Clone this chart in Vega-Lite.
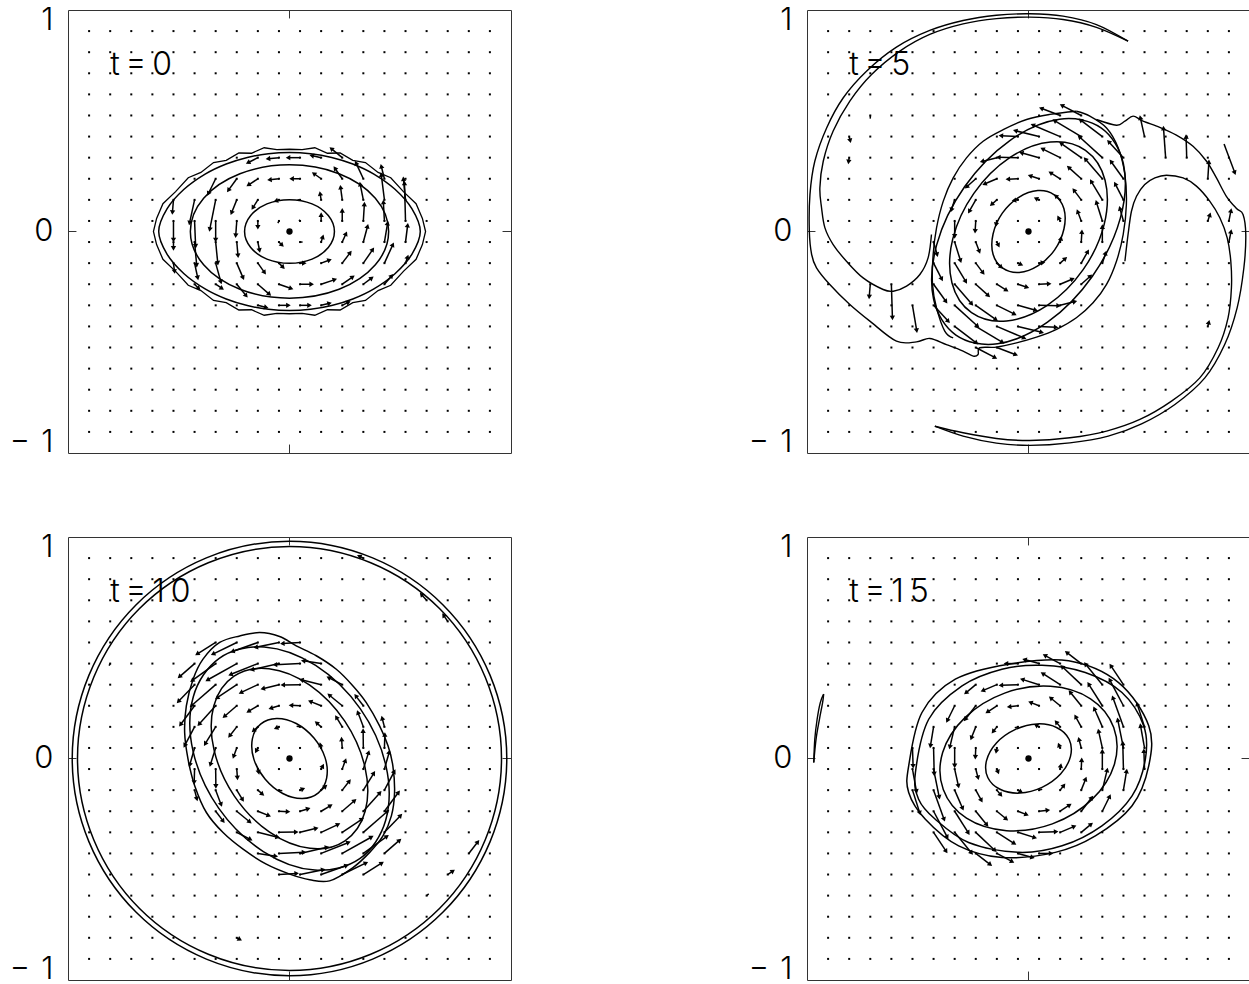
{
"$schema":"https://vega.github.io/schema/vega-lite/v6.json",
"background":"white",
"padding":{"left":8,"top":4,"right":0,"bottom":0},
"columns":2,
"spacing":{"row":84,"column":296},
"bounds":"flush",
"config":{"view":{"stroke":"#333","strokeWidth":1}},
"datasets":{
"g":[
{"x":-0.95,"y":0.95},{"x":-0.85,"y":0.95},{"x":-0.75,"y":0.95},{"x":-0.65,"y":0.95},{"x":-0.55,"y":0.95},{"x":-0.45,"y":0.95},{"x":-0.35,"y":0.95},{"x":-0.25,"y":0.95},{"x":-0.15,"y":0.95},{"x":-0.05,"y":0.95},{"x":0.05,"y":0.95},{"x":0.15,"y":0.95},{"x":0.25,"y":0.95},{"x":0.35,"y":0.95},{"x":0.45,"y":0.95},{"x":0.55,"y":0.95},{"x":0.65,"y":0.95},{"x":0.75,"y":0.95},{"x":0.85,"y":0.95},{"x":0.95,"y":0.95},
{"x":-0.95,"y":0.85},{"x":-0.85,"y":0.85},{"x":-0.75,"y":0.85},{"x":-0.65,"y":0.85},{"x":-0.55,"y":0.85},{"x":-0.45,"y":0.85},{"x":-0.35,"y":0.85},{"x":-0.25,"y":0.85},{"x":-0.15,"y":0.85},{"x":-0.05,"y":0.85},{"x":0.05,"y":0.85},{"x":0.15,"y":0.85},{"x":0.25,"y":0.85},{"x":0.35,"y":0.85},{"x":0.45,"y":0.85},{"x":0.55,"y":0.85},{"x":0.65,"y":0.85},{"x":0.75,"y":0.85},{"x":0.85,"y":0.85},{"x":0.95,"y":0.85},
{"x":-0.95,"y":0.75},{"x":-0.85,"y":0.75},{"x":-0.75,"y":0.75},{"x":-0.65,"y":0.75},{"x":-0.55,"y":0.75},{"x":-0.45,"y":0.75},{"x":-0.35,"y":0.75},{"x":-0.25,"y":0.75},{"x":-0.15,"y":0.75},{"x":-0.05,"y":0.75},{"x":0.05,"y":0.75},{"x":0.15,"y":0.75},{"x":0.25,"y":0.75},{"x":0.35,"y":0.75},{"x":0.45,"y":0.75},{"x":0.55,"y":0.75},{"x":0.65,"y":0.75},{"x":0.75,"y":0.75},{"x":0.85,"y":0.75},{"x":0.95,"y":0.75},
{"x":-0.95,"y":0.65},{"x":-0.85,"y":0.65},{"x":-0.75,"y":0.65},{"x":-0.65,"y":0.65},{"x":-0.55,"y":0.65},{"x":-0.45,"y":0.65},{"x":-0.35,"y":0.65},{"x":-0.25,"y":0.65},{"x":-0.15,"y":0.65},{"x":-0.05,"y":0.65},{"x":0.05,"y":0.65},{"x":0.15,"y":0.65},{"x":0.25,"y":0.65},{"x":0.35,"y":0.65},{"x":0.45,"y":0.65},{"x":0.55,"y":0.65},{"x":0.65,"y":0.65},{"x":0.75,"y":0.65},{"x":0.85,"y":0.65},{"x":0.95,"y":0.65},
{"x":-0.95,"y":0.55},{"x":-0.85,"y":0.55},{"x":-0.75,"y":0.55},{"x":-0.65,"y":0.55},{"x":-0.55,"y":0.55},{"x":-0.45,"y":0.55},{"x":-0.35,"y":0.55},{"x":-0.25,"y":0.55},{"x":-0.15,"y":0.55},{"x":-0.05,"y":0.55},{"x":0.05,"y":0.55},{"x":0.15,"y":0.55},{"x":0.25,"y":0.55},{"x":0.35,"y":0.55},{"x":0.45,"y":0.55},{"x":0.55,"y":0.55},{"x":0.65,"y":0.55},{"x":0.75,"y":0.55},{"x":0.85,"y":0.55},{"x":0.95,"y":0.55},
{"x":-0.95,"y":0.45},{"x":-0.85,"y":0.45},{"x":-0.75,"y":0.45},{"x":-0.65,"y":0.45},{"x":-0.55,"y":0.45},{"x":-0.45,"y":0.45},{"x":-0.35,"y":0.45},{"x":-0.25,"y":0.45},{"x":-0.15,"y":0.45},{"x":-0.05,"y":0.45},{"x":0.05,"y":0.45},{"x":0.15,"y":0.45},{"x":0.25,"y":0.45},{"x":0.35,"y":0.45},{"x":0.45,"y":0.45},{"x":0.55,"y":0.45},{"x":0.65,"y":0.45},{"x":0.75,"y":0.45},{"x":0.85,"y":0.45},{"x":0.95,"y":0.45},
{"x":-0.95,"y":0.35},{"x":-0.85,"y":0.35},{"x":-0.75,"y":0.35},{"x":-0.65,"y":0.35},{"x":-0.55,"y":0.35},{"x":-0.45,"y":0.35},{"x":-0.35,"y":0.35},{"x":-0.25,"y":0.35},{"x":-0.15,"y":0.35},{"x":-0.05,"y":0.35},{"x":0.05,"y":0.35},{"x":0.15,"y":0.35},{"x":0.25,"y":0.35},{"x":0.35,"y":0.35},{"x":0.45,"y":0.35},{"x":0.55,"y":0.35},{"x":0.65,"y":0.35},{"x":0.75,"y":0.35},{"x":0.85,"y":0.35},{"x":0.95,"y":0.35},
{"x":-0.95,"y":0.25},{"x":-0.85,"y":0.25},{"x":-0.75,"y":0.25},{"x":-0.65,"y":0.25},{"x":-0.55,"y":0.25},{"x":-0.45,"y":0.25},{"x":-0.35,"y":0.25},{"x":-0.25,"y":0.25},{"x":-0.15,"y":0.25},{"x":-0.05,"y":0.25},{"x":0.05,"y":0.25},{"x":0.15,"y":0.25},{"x":0.25,"y":0.25},{"x":0.35,"y":0.25},{"x":0.45,"y":0.25},{"x":0.55,"y":0.25},{"x":0.65,"y":0.25},{"x":0.75,"y":0.25},{"x":0.85,"y":0.25},{"x":0.95,"y":0.25},
{"x":-0.95,"y":0.15},{"x":-0.85,"y":0.15},{"x":-0.75,"y":0.15},{"x":-0.65,"y":0.15},{"x":-0.55,"y":0.15},{"x":-0.45,"y":0.15},{"x":-0.35,"y":0.15},{"x":-0.25,"y":0.15},{"x":-0.15,"y":0.15},{"x":-0.05,"y":0.15},{"x":0.05,"y":0.15},{"x":0.15,"y":0.15},{"x":0.25,"y":0.15},{"x":0.35,"y":0.15},{"x":0.45,"y":0.15},{"x":0.55,"y":0.15},{"x":0.65,"y":0.15},{"x":0.75,"y":0.15},{"x":0.85,"y":0.15},{"x":0.95,"y":0.15},
{"x":-0.95,"y":0.05},{"x":-0.85,"y":0.05},{"x":-0.75,"y":0.05},{"x":-0.65,"y":0.05},{"x":-0.55,"y":0.05},{"x":-0.45,"y":0.05},{"x":-0.35,"y":0.05},{"x":-0.25,"y":0.05},{"x":-0.15,"y":0.05},{"x":-0.05,"y":0.05},{"x":0.05,"y":0.05},{"x":0.15,"y":0.05},{"x":0.25,"y":0.05},{"x":0.35,"y":0.05},{"x":0.45,"y":0.05},{"x":0.55,"y":0.05},{"x":0.65,"y":0.05},{"x":0.75,"y":0.05},{"x":0.85,"y":0.05},{"x":0.95,"y":0.05},
{"x":-0.95,"y":-0.05},{"x":-0.85,"y":-0.05},{"x":-0.75,"y":-0.05},{"x":-0.65,"y":-0.05},{"x":-0.55,"y":-0.05},{"x":-0.45,"y":-0.05},{"x":-0.35,"y":-0.05},{"x":-0.25,"y":-0.05},{"x":-0.15,"y":-0.05},{"x":-0.05,"y":-0.05},{"x":0.05,"y":-0.05},{"x":0.15,"y":-0.05},{"x":0.25,"y":-0.05},{"x":0.35,"y":-0.05},{"x":0.45,"y":-0.05},{"x":0.55,"y":-0.05},{"x":0.65,"y":-0.05},{"x":0.75,"y":-0.05},{"x":0.85,"y":-0.05},{"x":0.95,"y":-0.05},
{"x":-0.95,"y":-0.15},{"x":-0.85,"y":-0.15},{"x":-0.75,"y":-0.15},{"x":-0.65,"y":-0.15},{"x":-0.55,"y":-0.15},{"x":-0.45,"y":-0.15},{"x":-0.35,"y":-0.15},{"x":-0.25,"y":-0.15},{"x":-0.15,"y":-0.15},{"x":-0.05,"y":-0.15},{"x":0.05,"y":-0.15},{"x":0.15,"y":-0.15},{"x":0.25,"y":-0.15},{"x":0.35,"y":-0.15},{"x":0.45,"y":-0.15},{"x":0.55,"y":-0.15},{"x":0.65,"y":-0.15},{"x":0.75,"y":-0.15},{"x":0.85,"y":-0.15},{"x":0.95,"y":-0.15},
{"x":-0.95,"y":-0.25},{"x":-0.85,"y":-0.25},{"x":-0.75,"y":-0.25},{"x":-0.65,"y":-0.25},{"x":-0.55,"y":-0.25},{"x":-0.45,"y":-0.25},{"x":-0.35,"y":-0.25},{"x":-0.25,"y":-0.25},{"x":-0.15,"y":-0.25},{"x":-0.05,"y":-0.25},{"x":0.05,"y":-0.25},{"x":0.15,"y":-0.25},{"x":0.25,"y":-0.25},{"x":0.35,"y":-0.25},{"x":0.45,"y":-0.25},{"x":0.55,"y":-0.25},{"x":0.65,"y":-0.25},{"x":0.75,"y":-0.25},{"x":0.85,"y":-0.25},{"x":0.95,"y":-0.25},
{"x":-0.95,"y":-0.35},{"x":-0.85,"y":-0.35},{"x":-0.75,"y":-0.35},{"x":-0.65,"y":-0.35},{"x":-0.55,"y":-0.35},{"x":-0.45,"y":-0.35},{"x":-0.35,"y":-0.35},{"x":-0.25,"y":-0.35},{"x":-0.15,"y":-0.35},{"x":-0.05,"y":-0.35},{"x":0.05,"y":-0.35},{"x":0.15,"y":-0.35},{"x":0.25,"y":-0.35},{"x":0.35,"y":-0.35},{"x":0.45,"y":-0.35},{"x":0.55,"y":-0.35},{"x":0.65,"y":-0.35},{"x":0.75,"y":-0.35},{"x":0.85,"y":-0.35},{"x":0.95,"y":-0.35},
{"x":-0.95,"y":-0.45},{"x":-0.85,"y":-0.45},{"x":-0.75,"y":-0.45},{"x":-0.65,"y":-0.45},{"x":-0.55,"y":-0.45},{"x":-0.45,"y":-0.45},{"x":-0.35,"y":-0.45},{"x":-0.25,"y":-0.45},{"x":-0.15,"y":-0.45},{"x":-0.05,"y":-0.45},{"x":0.05,"y":-0.45},{"x":0.15,"y":-0.45},{"x":0.25,"y":-0.45},{"x":0.35,"y":-0.45},{"x":0.45,"y":-0.45},{"x":0.55,"y":-0.45},{"x":0.65,"y":-0.45},{"x":0.75,"y":-0.45},{"x":0.85,"y":-0.45},{"x":0.95,"y":-0.45},
{"x":-0.95,"y":-0.55},{"x":-0.85,"y":-0.55},{"x":-0.75,"y":-0.55},{"x":-0.65,"y":-0.55},{"x":-0.55,"y":-0.55},{"x":-0.45,"y":-0.55},{"x":-0.35,"y":-0.55},{"x":-0.25,"y":-0.55},{"x":-0.15,"y":-0.55},{"x":-0.05,"y":-0.55},{"x":0.05,"y":-0.55},{"x":0.15,"y":-0.55},{"x":0.25,"y":-0.55},{"x":0.35,"y":-0.55},{"x":0.45,"y":-0.55},{"x":0.55,"y":-0.55},{"x":0.65,"y":-0.55},{"x":0.75,"y":-0.55},{"x":0.85,"y":-0.55},{"x":0.95,"y":-0.55},
{"x":-0.95,"y":-0.65},{"x":-0.85,"y":-0.65},{"x":-0.75,"y":-0.65},{"x":-0.65,"y":-0.65},{"x":-0.55,"y":-0.65},{"x":-0.45,"y":-0.65},{"x":-0.35,"y":-0.65},{"x":-0.25,"y":-0.65},{"x":-0.15,"y":-0.65},{"x":-0.05,"y":-0.65},{"x":0.05,"y":-0.65},{"x":0.15,"y":-0.65},{"x":0.25,"y":-0.65},{"x":0.35,"y":-0.65},{"x":0.45,"y":-0.65},{"x":0.55,"y":-0.65},{"x":0.65,"y":-0.65},{"x":0.75,"y":-0.65},{"x":0.85,"y":-0.65},{"x":0.95,"y":-0.65},
{"x":-0.95,"y":-0.75},{"x":-0.85,"y":-0.75},{"x":-0.75,"y":-0.75},{"x":-0.65,"y":-0.75},{"x":-0.55,"y":-0.75},{"x":-0.45,"y":-0.75},{"x":-0.35,"y":-0.75},{"x":-0.25,"y":-0.75},{"x":-0.15,"y":-0.75},{"x":-0.05,"y":-0.75},{"x":0.05,"y":-0.75},{"x":0.15,"y":-0.75},{"x":0.25,"y":-0.75},{"x":0.35,"y":-0.75},{"x":0.45,"y":-0.75},{"x":0.55,"y":-0.75},{"x":0.65,"y":-0.75},{"x":0.75,"y":-0.75},{"x":0.85,"y":-0.75},{"x":0.95,"y":-0.75},
{"x":-0.95,"y":-0.85},{"x":-0.85,"y":-0.85},{"x":-0.75,"y":-0.85},{"x":-0.65,"y":-0.85},{"x":-0.55,"y":-0.85},{"x":-0.45,"y":-0.85},{"x":-0.35,"y":-0.85},{"x":-0.25,"y":-0.85},{"x":-0.15,"y":-0.85},{"x":-0.05,"y":-0.85},{"x":0.05,"y":-0.85},{"x":0.15,"y":-0.85},{"x":0.25,"y":-0.85},{"x":0.35,"y":-0.85},{"x":0.45,"y":-0.85},{"x":0.55,"y":-0.85},{"x":0.65,"y":-0.85},{"x":0.75,"y":-0.85},{"x":0.85,"y":-0.85},{"x":0.95,"y":-0.85},
{"x":-0.95,"y":-0.95},{"x":-0.85,"y":-0.95},{"x":-0.75,"y":-0.95},{"x":-0.65,"y":-0.95},{"x":-0.55,"y":-0.95},{"x":-0.45,"y":-0.95},{"x":-0.35,"y":-0.95},{"x":-0.25,"y":-0.95},{"x":-0.15,"y":-0.95},{"x":-0.05,"y":-0.95},{"x":0.05,"y":-0.95},{"x":0.15,"y":-0.95},{"x":0.25,"y":-0.95},{"x":0.35,"y":-0.95},{"x":0.45,"y":-0.95},{"x":0.55,"y":-0.95},{"x":0.65,"y":-0.95},{"x":0.75,"y":-0.95},{"x":0.85,"y":-0.95},{"x":0.95,"y":-0.95}
],
"tk":[{"x":-1.05,"y":0,"x2":-1.01,"y2":0},{"x":1.01,"y":0,"x2":1.05,"y2":0},{"x":0,"y":1.01,"x2":0,"y2":1.05},{"x":0,"y":-1.05,"x2":0,"y2":-1.01}],
"s0":[
{"id":1,"x":0.213,"y":0},{"id":1,"x":0.184,"y":0.076},{"id":1,"x":0.107,"y":0.131},{"id":1,"x":0,"y":0.151},{"id":1,"x":-0.107,"y":0.131},{"id":1,"x":-0.184,"y":0.076},{"id":1,"x":-0.213,"y":0},{"id":1,"x":-0.184,"y":-0.076},{"id":1,"x":-0.107,"y":-0.131},{"id":1,"x":0,"y":-0.151},{"id":1,"x":0.107,"y":-0.131},{"id":1,"x":0.184,"y":-0.076},
{"id":2,"x":0.47,"y":0},{"id":2,"x":0.407,"y":0.158},{"id":2,"x":0.235,"y":0.274},{"id":2,"x":0,"y":0.316},{"id":2,"x":-0.235,"y":0.274},{"id":2,"x":-0.407,"y":0.158},{"id":2,"x":-0.47,"y":0},{"id":2,"x":-0.407,"y":-0.158},{"id":2,"x":-0.235,"y":-0.274},{"id":2,"x":0,"y":-0.316},{"id":2,"x":0.235,"y":-0.274},{"id":2,"x":0.407,"y":-0.158},
{"id":3,"x":0.62,"y":0},{"id":3,"x":0.58,"y":0.108},{"id":3,"x":0.5,"y":0.2},{"id":3,"x":0.4,"y":0.272},{"id":3,"x":0.3,"y":0.32},{"id":3,"x":0.2,"y":0.351},{"id":3,"x":0.1,"y":0.369},{"id":3,"x":0,"y":0.375},{"id":3,"x":-0.1,"y":0.369},{"id":3,"x":-0.2,"y":0.351},{"id":3,"x":-0.3,"y":0.32},{"id":3,"x":-0.4,"y":0.272},{"id":3,"x":-0.5,"y":0.2},{"id":3,"x":-0.58,"y":0.108},{"id":3,"x":-0.62,"y":0},{"id":3,"x":-0.58,"y":-0.108},{"id":3,"x":-0.5,"y":-0.2},{"id":3,"x":-0.4,"y":-0.272},{"id":3,"x":-0.3,"y":-0.32},{"id":3,"x":-0.2,"y":-0.351},{"id":3,"x":-0.1,"y":-0.369},{"id":3,"x":0,"y":-0.375},{"id":3,"x":0.1,"y":-0.369},{"id":3,"x":0.2,"y":-0.351},{"id":3,"x":0.3,"y":-0.32},{"id":3,"x":0.4,"y":-0.272},{"id":3,"x":0.5,"y":-0.2},{"id":3,"x":0.58,"y":-0.108}
],
"j0":[
{"id":1,"x":0.645,"y":0},{"id":1,"x":0.63,"y":0.062},{"id":1,"x":0.6,"y":0.132},{"id":1,"x":0.54,"y":0.189},{"id":1,"x":0.48,"y":0.255},{"id":1,"x":0.42,"y":0.28},{"id":1,"x":0.36,"y":0.327},{"id":1,"x":0.3,"y":0.337},{"id":1,"x":0.24,"y":0.372},{"id":1,"x":0.18,"y":0.371},{"id":1,"x":0.12,"y":0.397},{"id":1,"x":0.06,"y":0.388},{"id":1,"x":0,"y":0.39},{"id":1,"x":-0.06,"y":0.388},{"id":1,"x":-0.12,"y":0.397},{"id":1,"x":-0.18,"y":0.371},{"id":1,"x":-0.24,"y":0.372},{"id":1,"x":-0.3,"y":0.337},{"id":1,"x":-0.36,"y":0.327},{"id":1,"x":-0.42,"y":0.28},{"id":1,"x":-0.48,"y":0.255},{"id":1,"x":-0.54,"y":0.189},{"id":1,"x":-0.6,"y":0.132},{"id":1,"x":-0.63,"y":0.062},{"id":1,"x":-0.645,"y":0},
{"id":1,"x":-0.63,"y":-0.062},{"id":1,"x":-0.6,"y":-0.132},{"id":1,"x":-0.54,"y":-0.189},{"id":1,"x":-0.48,"y":-0.255},{"id":1,"x":-0.42,"y":-0.28},{"id":1,"x":-0.36,"y":-0.327},{"id":1,"x":-0.3,"y":-0.337},{"id":1,"x":-0.24,"y":-0.372},{"id":1,"x":-0.18,"y":-0.371},{"id":1,"x":-0.12,"y":-0.397},{"id":1,"x":-0.06,"y":-0.388},{"id":1,"x":0,"y":-0.39},{"id":1,"x":0.06,"y":-0.388},{"id":1,"x":0.12,"y":-0.397},{"id":1,"x":0.18,"y":-0.371},{"id":1,"x":0.24,"y":-0.372},{"id":1,"x":0.3,"y":-0.337},{"id":1,"x":0.36,"y":-0.327},{"id":1,"x":0.42,"y":-0.28},{"id":1,"x":0.48,"y":-0.255},{"id":1,"x":0.54,"y":-0.189},{"id":1,"x":0.6,"y":-0.132},{"id":1,"x":0.63,"y":-0.062}
],
"s1":[
{"id":1,"x":0.122,"y":0.174},{"id":1,"x":0.044,"y":0.194},{"id":1,"x":-0.046,"y":0.162},{"id":1,"x":-0.124,"y":0.087},{"id":1,"x":-0.168,"y":-0.012},{"id":1,"x":-0.168,"y":-0.108},{"id":1,"x":-0.122,"y":-0.174},{"id":1,"x":-0.044,"y":-0.194},{"id":1,"x":0.046,"y":-0.162},{"id":1,"x":0.124,"y":-0.087},{"id":1,"x":0.168,"y":0.012},{"id":1,"x":0.168,"y":0.108},
{"id":2,"x":0.27,"y":0.385},{"id":2,"x":0.104,"y":0.424},{"id":2,"x":-0.089,"y":0.35},{"id":2,"x":-0.259,"y":0.181},{"id":2,"x":-0.359,"y":-0.035},{"id":2,"x":-0.363,"y":-0.243},{"id":2,"x":-0.27,"y":-0.385},{"id":2,"x":-0.104,"y":-0.424},{"id":2,"x":0.089,"y":-0.35},{"id":2,"x":0.259,"y":-0.181},{"id":2,"x":0.359,"y":0.035},{"id":2,"x":0.363,"y":0.243},
{"id":3,"x":0.344,"y":0.491},{"id":3,"x":0.147,"y":0.532},{"id":3,"x":-0.09,"y":0.43},{"id":3,"x":-0.303,"y":0.212},{"id":3,"x":-0.435,"y":-0.062},{"id":3,"x":-0.45,"y":-0.32},{"id":3,"x":-0.344,"y":-0.491},{"id":3,"x":-0.147,"y":-0.532},{"id":3,"x":0.09,"y":-0.43},{"id":3,"x":0.303,"y":-0.212},{"id":3,"x":0.435,"y":0.062},{"id":3,"x":0.45,"y":0.32}
],
"o1":[
{"id":1,"x":0.472,"y":0.902},{"id":1,"x":0.322,"y":0.981},{"id":1,"x":0.164,"y":1.021},{"id":1,"x":0.006,"y":1.032},{"id":1,"x":-0.152,"y":1.025},{"id":1,"x":-0.31,"y":1.0},{"id":1,"x":-0.468,"y":0.953},{"id":1,"x":-0.626,"y":0.874},{"id":1,"x":-0.768,"y":0.76},{"id":1,"x":-0.878,"y":0.634},{"id":1,"x":-0.957,"y":0.491},{"id":1,"x":-1.013,"y":0.333},{"id":1,"x":-1.036,"y":0.175},{"id":1,"x":-1.039,"y":0.002},{"id":1,"x":-1.028,"y":-0.109},{"id":1,"x":-1.005,"y":-0.172},{"id":1,"x":-0.942,"y":-0.251},{"id":1,"x":-0.847,"y":-0.346},{"id":1,"x":-0.752,"y":-0.425},{"id":1,"x":-0.626,"y":-0.52},{"id":1,"x":-0.531,"y":-0.523},{"id":1,"x":-0.468,"y":-0.507},{"id":1,"x":-0.389,"y":-0.536},{"id":1,"x":-0.31,"y":-0.567},{"id":1,"x":-0.262,"y":-0.591},{"id":1,"x":-0.239,"y":-0.583},{"id":1,"x":-0.231,"y":-0.551},{"id":1,"x":-0.152,"y":-0.548},{"id":1,"x":-0.057,"y":-0.528},{"id":1,"x":0.038,"y":-0.501},{"id":1,"x":0.133,"y":-0.464},{"id":1,"x":0.227,"y":-0.409},{"id":1,"x":0.306,"y":-0.338},{"id":1,"x":0.37,"y":-0.251},{"id":1,"x":0.417,"y":-0.141},{"id":1,"x":0.449,"y":-0.014},{"id":1,"x":0.464,"y":0.128},{"id":1,"x":0.457,"y":0.27},{"id":1,"x":0.425,"y":0.397},{"id":1,"x":0.37,"y":0.491},{"id":1,"x":0.291,"y":0.547},{"id":1,"x":0.227,"y":0.57},
{"id":2,"x":0.227,"y":0.57},{"id":2,"x":0.101,"y":0.555},{"id":2,"x":-0.009,"y":0.531},{"id":2,"x":-0.12,"y":0.483},{"id":2,"x":-0.215,"y":0.428},{"id":2,"x":-0.294,"y":0.349},{"id":2,"x":-0.357,"y":0.254},{"id":2,"x":-0.404,"y":0.144},{"id":2,"x":-0.436,"y":0.017},{"id":2,"x":-0.452,"y":-0.109},{"id":2,"x":-0.455,"y":-0.251},{"id":2,"x":-0.436,"y":-0.362},{"id":2,"x":-0.397,"y":-0.472},{"id":2,"x":-0.357,"y":-0.504},
{"id":3,"x":0.472,"y":0.902},{"id":3,"x":0.322,"y":0.968},{"id":3,"x":0.164,"y":1.005},{"id":3,"x":0.006,"y":1.016},{"id":3,"x":-0.152,"y":1.009},{"id":3,"x":-0.31,"y":0.984},{"id":3,"x":-0.468,"y":0.934},{"id":3,"x":-0.61,"y":0.855},{"id":3,"x":-0.744,"y":0.744},{"id":3,"x":-0.847,"y":0.618},{"id":3,"x":-0.926,"y":0.476},{"id":3,"x":-0.973,"y":0.333},{"id":3,"x":-0.989,"y":0.207},{"id":3,"x":-0.981,"y":0.112},{"id":3,"x":-0.965,"y":0.017},{"id":3,"x":-0.926,"y":-0.062},{"id":3,"x":-0.863,"y":-0.141},{"id":3,"x":-0.784,"y":-0.22},{"id":3,"x":-0.689,"y":-0.275},{"id":3,"x":-0.641,"y":-0.283},{"id":3,"x":-0.578,"y":-0.259},{"id":3,"x":-0.515,"y":-0.204},{"id":3,"x":-0.476,"y":-0.125},{"id":3,"x":-0.46,"y":-0.014},
{"id":4,"x":0.322,"y":0.531},{"id":4,"x":0.417,"y":0.504},{"id":4,"x":0.457,"y":0.523},{"id":4,"x":0.496,"y":0.547},{"id":4,"x":0.543,"y":0.523},{"id":4,"x":0.622,"y":0.494},{"id":4,"x":0.701,"y":0.457},{"id":4,"x":0.78,"y":0.404},{"id":4,"x":0.844,"y":0.333},{"id":4,"x":0.891,"y":0.254},{"id":4,"x":0.938,"y":0.167},{"id":4,"x":0.986,"y":0.109},{"id":4,"x":1.017,"y":0.081},{"id":4,"x":1.03,"y":-0.014},{"id":4,"x":1.021,"y":-0.172},{"id":4,"x":0.989,"y":-0.362},{"id":4,"x":0.93,"y":-0.536},{"id":4,"x":0.836,"y":-0.694},{"id":4,"x":0.694,"y":-0.82},{"id":4,"x":0.536,"y":-0.912},{"id":4,"x":0.378,"y":-0.97},{"id":4,"x":0.196,"y":-1.002},{"id":4,"x":0.006,"y":-1.014},{"id":4,"x":-0.152,"y":-1.003},{"id":4,"x":-0.31,"y":-0.97},{"id":4,"x":-0.444,"y":-0.923},
{"id":5,"x":0.457,"y":-0.141},{"id":5,"x":0.472,"y":-0.014},{"id":5,"x":0.488,"y":0.096},{"id":5,"x":0.512,"y":0.167},{"id":5,"x":0.551,"y":0.223},{"id":5,"x":0.599,"y":0.254},{"id":5,"x":0.654,"y":0.267},{"id":5,"x":0.733,"y":0.254},{"id":5,"x":0.796,"y":0.215},{"id":5,"x":0.859,"y":0.144},{"id":5,"x":0.907,"y":0.065},{"id":5,"x":0.942,"y":-0.03},{"id":5,"x":0.959,"y":-0.141},{"id":5,"x":0.962,"y":-0.267},{"id":5,"x":0.946,"y":-0.409},{"id":5,"x":0.899,"y":-0.551},{"id":5,"x":0.812,"y":-0.694},{"id":5,"x":0.678,"y":-0.804},{"id":5,"x":0.528,"y":-0.891},{"id":5,"x":0.37,"y":-0.946},{"id":5,"x":0.196,"y":-0.978},{"id":5,"x":0.006,"y":-0.991},{"id":5,"x":-0.152,"y":-0.981},{"id":5,"x":-0.31,"y":-0.954},{"id":5,"x":-0.444,"y":-0.923}
],
"s2":[
{"id":1,"x":1.03,"y":0},{"id":1,"x":0.951,"y":0.394},{"id":1,"x":0.728,"y":0.728},{"id":1,"x":0.394,"y":0.951},{"id":1,"x":0,"y":1.03},{"id":1,"x":-0.394,"y":0.951},{"id":1,"x":-0.728,"y":0.728},{"id":1,"x":-0.951,"y":0.394},{"id":1,"x":-1.03,"y":0},{"id":1,"x":-0.951,"y":-0.394},{"id":1,"x":-0.728,"y":-0.728},{"id":1,"x":-0.394,"y":-0.951},{"id":1,"x":0,"y":-1.03},{"id":1,"x":0.394,"y":-0.951},{"id":1,"x":0.728,"y":-0.728},{"id":1,"x":0.951,"y":-0.394},
{"id":2,"x":1.005,"y":0},{"id":2,"x":0.928,"y":0.385},{"id":2,"x":0.711,"y":0.711},{"id":2,"x":0.385,"y":0.928},{"id":2,"x":0,"y":1.005},{"id":2,"x":-0.385,"y":0.928},{"id":2,"x":-0.711,"y":0.711},{"id":2,"x":-0.928,"y":0.385},{"id":2,"x":-1.005,"y":0},{"id":2,"x":-0.928,"y":-0.385},{"id":2,"x":-0.711,"y":-0.711},{"id":2,"x":-0.385,"y":-0.928},{"id":2,"x":0,"y":-1.005},{"id":2,"x":0.385,"y":-0.928},{"id":2,"x":0.711,"y":-0.711},{"id":2,"x":0.928,"y":-0.385},
{"id":3,"x":-0.137,"y":0.163},{"id":3,"x":-0.176,"y":0.093},{"id":3,"x":-0.169,"y":-0.003},{"id":3,"x":-0.116,"y":-0.097},{"id":3,"x":-0.032,"y":-0.166},{"id":3,"x":0.061,"y":-0.19},{"id":3,"x":0.137,"y":-0.163},{"id":3,"x":0.176,"y":-0.093},{"id":3,"x":0.169,"y":0.003},{"id":3,"x":0.116,"y":0.097},{"id":3,"x":0.032,"y":0.166},{"id":3,"x":-0.061,"y":0.19},
{"id":4,"x":-0.263,"y":0.39},{"id":4,"x":-0.359,"y":0.249},{"id":4,"x":-0.358,"y":0.042},{"id":4,"x":-0.262,"y":-0.177},{"id":4,"x":-0.096,"y":-0.348},{"id":4,"x":0.097,"y":-0.426},{"id":4,"x":0.263,"y":-0.39},{"id":4,"x":0.359,"y":-0.249},{"id":4,"x":0.358,"y":-0.042},{"id":4,"x":0.262,"y":0.177},{"id":4,"x":0.096,"y":0.348},{"id":4,"x":-0.097,"y":0.426},
{"id":5,"x":-0.333,"y":0.475},{"id":5,"x":-0.456,"y":0.293},{"id":5,"x":-0.457,"y":0.034},{"id":5,"x":-0.336,"y":-0.235},{"id":5,"x":-0.124,"y":-0.441},{"id":5,"x":0.12,"y":-0.529},{"id":5,"x":0.333,"y":-0.475},{"id":5,"x":0.456,"y":-0.293},{"id":5,"x":0.457,"y":-0.034},{"id":5,"x":0.336,"y":0.235},{"id":5,"x":0.124,"y":0.441},{"id":5,"x":-0.12,"y":0.529},
{"id":6,"x":-0.236,"y":0.581},{"id":6,"x":-0.141,"y":0.597},{"id":6,"x":-0.047,"y":0.578},{"id":6,"x":0.032,"y":0.534},{"id":6,"x":0.127,"y":0.487},{"id":6,"x":0.222,"y":0.423},{"id":6,"x":0.301,"y":0.344},{"id":6,"x":0.364,"y":0.265},{"id":6,"x":0.427,"y":0.155},{"id":6,"x":0.467,"y":0.06},{"id":6,"x":0.49,"y":-0.035},{"id":6,"x":0.498,"y":-0.161},{"id":6,"x":0.483,"y":-0.272},{"id":6,"x":0.443,"y":-0.367},{"id":6,"x":0.38,"y":-0.445},{"id":6,"x":0.301,"y":-0.517},{"id":6,"x":0.19,"y":-0.58},{"id":6,"x":0.096,"y":-0.575},{"id":6,"x":0.001,"y":-0.548},{"id":6,"x":-0.11,"y":-0.501},{"id":6,"x":-0.22,"y":-0.43},{"id":6,"x":-0.315,"y":-0.351},{"id":6,"x":-0.394,"y":-0.256},{"id":6,"x":-0.449,"y":-0.13},{"id":6,"x":-0.481,"y":-0.003},{"id":6,"x":-0.497,"y":0.123},{"id":6,"x":-0.489,"y":0.25},{"id":6,"x":-0.457,"y":0.376},{"id":6,"x":-0.41,"y":0.471},{"id":6,"x":-0.331,"y":0.55}
],
"s3":[
{"id":1,"x":0.193,"y":0.09},{"id":1,"x":0.135,"y":0.146},{"id":1,"x":0.041,"y":0.164},{"id":1,"x":-0.064,"y":0.137},{"id":1,"x":-0.152,"y":0.074},{"id":1,"x":-0.199,"y":-0.01},{"id":1,"x":-0.193,"y":-0.09},{"id":1,"x":-0.135,"y":-0.146},{"id":1,"x":-0.041,"y":-0.164},{"id":1,"x":0.064,"y":-0.137},{"id":1,"x":0.152,"y":-0.074},{"id":1,"x":0.199,"y":0.01},
{"id":2,"x":0.404,"y":0.147},{"id":2,"x":0.294,"y":0.283},{"id":2,"x":0.104,"y":0.342},{"id":2,"x":-0.113,"y":0.31},{"id":2,"x":-0.3,"y":0.195},{"id":2,"x":-0.407,"y":0.028},{"id":2,"x":-0.404,"y":-0.147},{"id":2,"x":-0.294,"y":-0.283},{"id":2,"x":-0.104,"y":-0.342},{"id":2,"x":0.113,"y":-0.31},{"id":2,"x":0.3,"y":-0.195},{"id":2,"x":0.407,"y":-0.028},
{"id":3,"x":-0.536,"y":-0.066},{"id":3,"x":-0.521,"y":-0.193},{"id":3,"x":-0.442,"y":-0.288},{"id":3,"x":-0.284,"y":-0.398},{"id":3,"x":-0.047,"y":-0.445},{"id":3,"x":0.159,"y":-0.414},{"id":3,"x":0.348,"y":-0.319},{"id":3,"x":0.491,"y":-0.177},{"id":3,"x":0.554,"y":-0.003},{"id":3,"x":0.546,"y":0.155},{"id":3,"x":0.443,"y":0.313},{"id":3,"x":0.269,"y":0.408},{"id":3,"x":0.064,"y":0.442},{"id":3,"x":-0.126,"y":0.423},{"id":3,"x":-0.315,"y":0.344},{"id":3,"x":-0.473,"y":0.186},
{"id":4,"x":-0.568,"y":-0.035},{"id":4,"x":-0.568,"y":-0.161},{"id":4,"x":-0.489,"y":-0.288},{"id":4,"x":-0.331,"y":-0.414},{"id":4,"x":-0.126,"y":-0.469},{"id":4,"x":0.127,"y":-0.445},{"id":4,"x":0.317,"y":-0.367},{"id":4,"x":0.491,"y":-0.224},{"id":4,"x":0.57,"y":-0.035},{"id":4,"x":0.57,"y":0.155},{"id":4,"x":0.427,"y":0.36},{"id":4,"x":0.19,"y":0.463},{"id":4,"x":-0.094,"y":0.447},{"id":4,"x":-0.347,"y":0.376},{"id":4,"x":-0.505,"y":0.218}
],
"o3":[
{"id":1,"x":-1.018,"y":-0.019},{"id":1,"x":-1.013,"y":0.092},{"id":1,"x":-1.002,"y":0.186},{"id":1,"x":-0.987,"y":0.265},{"id":1,"x":-0.971,"y":0.305},
{"id":2,"x":-1.018,"y":-0.019},{"id":2,"x":-1.007,"y":0.092},{"id":2,"x":-0.991,"y":0.186},{"id":2,"x":-0.976,"y":0.265},{"id":2,"x":-0.971,"y":0.305}
],
"a0":[
{"x":-0.15,"y":0.35,"x2":-0.197,"y2":0.326},{"x":-0.05,"y":0.35,"x2":-0.102,"y2":0.345},{"x":0.05,"y":0.35,"x2":-0.007,"y2":0.35},{"x":0.15,"y":0.35,"x2":0.105,"y2":0.36},{"x":0.25,"y":0.35,"x2":0.198,"y2":0.393},
{"x":-0.35,"y":0.25,"x2":-0.385,"y2":0.179},{"x":-0.25,"y":0.25,"x2":-0.29,"y2":0.195},{"x":-0.15,"y":0.25,"x2":-0.195,"y2":0.22},{"x":-0.05,"y":0.25,"x2":-0.095,"y2":0.245},{"x":0.05,"y":0.25,"x2":0.01,"y2":0.25},{"x":0.15,"y":0.25,"x2":0.115,"y2":0.275},{"x":0.25,"y":0.25,"x2":0.215,"y2":0.3},{"x":0.35,"y":0.25,"x2":0.315,"y2":0.325},{"x":0.45,"y":0.25,"x2":0.435,"y2":0.31},
{"x":-0.55,"y":0.15,"x2":-0.555,"y2":0.09},{"x":-0.45,"y":0.15,"x2":-0.474,"y2":0.04},{"x":-0.35,"y":0.15,"x2":-0.378,"y2":0.01},{"x":-0.25,"y":0.15,"x2":-0.275,"y2":0.088},{"x":-0.15,"y":0.15,"x2":-0.174,"y2":0.112},{"x":-0.05,"y":0.15,"x2":-0.065,"y2":0.145},{"x":0.05,"y":0.15,"x2":0.038,"y2":0.15},{"x":0.15,"y":0.15,"x2":0.145,"y2":0.18},{"x":0.25,"y":0.15,"x2":0.242,"y2":0.21},{"x":0.35,"y":0.15,"x2":0.335,"y2":0.225},{"x":0.45,"y":0.15,"x2":0.435,"y2":0.27},{"x":0.55,"y":0.15,"x2":0.54,"y2":0.25},
{"x":-0.55,"y":0.05,"x2":-0.55,"y2":-0.04},{"x":-0.45,"y":0.05,"x2":-0.445,"y2":-0.07},{"x":-0.35,"y":0.05,"x2":-0.35,"y2":-0.04},{"x":-0.25,"y":0.05,"x2":-0.255,"y2":-0.02},{"x":-0.15,"y":0.05,"x2":-0.15,"y2":0.02},{"x":-0.05,"y":0.05,"x2":-0.055,"y2":0.04},{"x":0.05,"y":0.05,"x2":0.045,"y2":0.055},{"x":0.15,"y":0.05,"x2":0.15,"y2":0.08},{"x":0.25,"y":0.05,"x2":0.25,"y2":0.1},{"x":0.35,"y":0.05,"x2":0.355,"y2":0.13},{"x":0.45,"y":0.05,"x2":0.445,"y2":0.14},{"x":0.55,"y":0.05,"x2":0.545,"y2":0.23},
{"x":-0.55,"y":-0.05,"x2":-0.55,"y2":-0.08},{"x":-0.45,"y":-0.05,"x2":-0.44,"y2":-0.16},{"x":-0.35,"y":-0.05,"x2":-0.34,"y2":-0.15},{"x":-0.25,"y":-0.05,"x2":-0.244,"y2":-0.115},{"x":-0.15,"y":-0.05,"x2":-0.142,"y2":-0.09},{"x":-0.05,"y":-0.05,"x2":-0.035,"y2":-0.065},{"x":0.05,"y":-0.05,"x2":0.062,"y2":-0.05},{"x":0.15,"y":-0.05,"x2":0.158,"y2":-0.025},{"x":0.25,"y":-0.05,"x2":0.268,"y2":-0.01},{"x":0.35,"y":-0.05,"x2":0.37,"y2":0.025},{"x":0.45,"y":-0.05,"x2":0.465,"y2":0.04},{"x":0.55,"y":-0.05,"x2":0.56,"y2":0.03},
{"x":-0.55,"y":-0.15,"x2":-0.545,"y2":-0.19},{"x":-0.45,"y":-0.15,"x2":-0.435,"y2":-0.22},{"x":-0.35,"y":-0.15,"x2":-0.325,"y2":-0.24},{"x":-0.25,"y":-0.15,"x2":-0.22,"y2":-0.22},{"x":-0.15,"y":-0.15,"x2":-0.118,"y2":-0.195},{"x":-0.05,"y":-0.15,"x2":-0.03,"y2":-0.17},{"x":0.05,"y":-0.15,"x2":0.07,"y2":-0.15},{"x":0.15,"y":-0.15,"x2":0.19,"y2":-0.135},{"x":0.25,"y":-0.15,"x2":0.288,"y2":-0.1},{"x":0.35,"y":-0.15,"x2":0.395,"y2":-0.085},{"x":0.45,"y":-0.15,"x2":0.49,"y2":-0.062},{"x":0.55,"y":-0.15,"x2":0.56,"y2":-0.12},
{"x":-0.45,"y":-0.25,"x2":-0.43,"y2":-0.27},{"x":-0.35,"y":-0.25,"x2":-0.32,"y2":-0.27},{"x":-0.25,"y":-0.25,"x2":-0.205,"y2":-0.305},{"x":-0.15,"y":-0.25,"x2":-0.095,"y2":-0.298},{"x":-0.05,"y":-0.25,"x2":0.008,"y2":-0.27},{"x":0.05,"y":-0.25,"x2":0.105,"y2":-0.25},{"x":0.15,"y":-0.25,"x2":0.215,"y2":-0.228},{"x":0.25,"y":-0.25,"x2":0.3,"y2":-0.215},{"x":0.35,"y":-0.25,"x2":0.39,"y2":-0.22},{"x":0.45,"y":-0.25,"x2":0.485,"y2":-0.21},
{"x":-0.15,"y":-0.35,"x2":-0.11,"y2":-0.36},{"x":-0.05,"y":-0.35,"x2":-0.005,"y2":-0.35},{"x":0.05,"y":-0.35,"x2":0.095,"y2":-0.35},{"x":0.15,"y":-0.35,"x2":0.19,"y2":-0.34},{"x":0.25,"y":-0.35,"x2":0.28,"y2":-0.335}
],
"a1":[
{"x":-0.35,"y":0.05,"x2":-0.35,"y2":-0.023},{"x":-0.25,"y":0.05,"x2":-0.253,"y2":0.001},{"x":-0.15,"y":0.05,"x2":-0.154,"y2":0.032},{"x":-0.05,"y":0.05,"x2":-0.053,"y2":0.047},{"x":0.05,"y":0.05,"x2":0.048,"y2":0.052},{"x":0.15,"y":0.05,"x2":0.142,"y2":0.066},{"x":0.25,"y":0.05,"x2":0.233,"y2":0.095},{"x":0.35,"y":0.05,"x2":0.322,"y2":0.139},{"x":0.45,"y":0.05,"x2":0.433,"y2":0.11},
{"x":-0.35,"y":0.15,"x2":-0.366,"y2":0.102},{"x":-0.25,"y":0.15,"x2":-0.281,"y2":0.095},{"x":-0.15,"y":0.15,"x2":-0.175,"y2":0.128},{"x":-0.05,"y":0.15,"x2":-0.069,"y2":0.147},{"x":0.05,"y":0.15,"x2":0.035,"y2":0.157},{"x":0.15,"y":0.15,"x2":0.129,"y2":0.169},{"x":0.25,"y":0.15,"x2":0.215,"y2":0.196},{"x":0.35,"y":0.15,"x2":0.297,"y2":0.238},{"x":0.45,"y":0.15,"x2":0.411,"y2":0.226},
{"x":-0.25,"y":0.25,"x2":-0.294,"y2":0.211},{"x":-0.15,"y":0.25,"x2":-0.209,"y2":0.225},{"x":-0.05,"y":0.25,"x2":-0.098,"y2":0.248},{"x":0.05,"y":0.25,"x2":0.007,"y2":0.264},{"x":0.15,"y":0.25,"x2":0.104,"y2":0.279},{"x":0.25,"y":0.25,"x2":0.19,"y2":0.304},{"x":0.35,"y":0.25,"x2":0.269,"y2":0.344},{"x":0.45,"y":0.25,"x2":0.391,"y2":0.332},
{"x":-0.15,"y":0.35,"x2":-0.22,"y2":0.332},{"x":-0.05,"y":0.35,"x2":-0.143,"y2":0.352},{"x":0.05,"y":0.35,"x2":-0.034,"y2":0.373},{"x":0.15,"y":0.35,"x2":0.066,"y2":0.392},{"x":0.25,"y":0.35,"x2":0.154,"y2":0.418},{"x":0.35,"y":0.35,"x2":0.241,"y2":0.449},{"x":0.45,"y":0.35,"x2":0.38,"y2":0.426},
{"x":-0.05,"y":0.45,"x2":-0.131,"y2":0.454},{"x":0.05,"y":0.45,"x2":-0.063,"y2":0.478},{"x":0.15,"y":0.45,"x2":0.02,"y2":0.505},{"x":0.25,"y":0.45,"x2":0.123,"y2":0.526},{"x":0.35,"y":0.45,"x2":0.246,"y2":0.529},
{"x":0.15,"y":0.55,"x2":0.06,"y2":0.584},{"x":0.25,"y":0.55,"x2":0.158,"y2":0.598},
{"x":0.35,"y":-0.05,"x2":0.35,"y2":0.023},{"x":0.25,"y":-0.05,"x2":0.253,"y2":-0.001},{"x":0.15,"y":-0.05,"x2":0.154,"y2":-0.032},{"x":0.05,"y":-0.05,"x2":0.053,"y2":-0.047},{"x":-0.05,"y":-0.05,"x2":-0.048,"y2":-0.052},{"x":-0.15,"y":-0.05,"x2":-0.142,"y2":-0.066},{"x":-0.25,"y":-0.05,"x2":-0.233,"y2":-0.095},{"x":-0.35,"y":-0.05,"x2":-0.322,"y2":-0.139},{"x":-0.45,"y":-0.05,"x2":-0.433,"y2":-0.11},
{"x":0.35,"y":-0.15,"x2":0.366,"y2":-0.102},{"x":0.25,"y":-0.15,"x2":0.281,"y2":-0.095},{"x":0.15,"y":-0.15,"x2":0.175,"y2":-0.128},{"x":0.05,"y":-0.15,"x2":0.069,"y2":-0.147},{"x":-0.05,"y":-0.15,"x2":-0.035,"y2":-0.157},{"x":-0.15,"y":-0.15,"x2":-0.129,"y2":-0.169},{"x":-0.25,"y":-0.15,"x2":-0.215,"y2":-0.196},{"x":-0.35,"y":-0.15,"x2":-0.297,"y2":-0.238},{"x":-0.45,"y":-0.15,"x2":-0.411,"y2":-0.226},
{"x":0.25,"y":-0.25,"x2":0.294,"y2":-0.211},{"x":0.15,"y":-0.25,"x2":0.209,"y2":-0.225},{"x":0.05,"y":-0.25,"x2":0.098,"y2":-0.248},{"x":-0.05,"y":-0.25,"x2":-0.007,"y2":-0.264},{"x":-0.15,"y":-0.25,"x2":-0.104,"y2":-0.279},{"x":-0.25,"y":-0.25,"x2":-0.19,"y2":-0.304},{"x":-0.35,"y":-0.25,"x2":-0.269,"y2":-0.344},{"x":-0.45,"y":-0.25,"x2":-0.391,"y2":-0.332},
{"x":0.15,"y":-0.35,"x2":0.22,"y2":-0.332},{"x":0.05,"y":-0.35,"x2":0.143,"y2":-0.352},{"x":-0.05,"y":-0.35,"x2":0.034,"y2":-0.373},{"x":-0.15,"y":-0.35,"x2":-0.066,"y2":-0.392},{"x":-0.25,"y":-0.35,"x2":-0.154,"y2":-0.418},{"x":-0.35,"y":-0.35,"x2":-0.241,"y2":-0.449},{"x":-0.45,"y":-0.35,"x2":-0.38,"y2":-0.426},
{"x":0.05,"y":-0.45,"x2":0.131,"y2":-0.454},{"x":-0.05,"y":-0.45,"x2":0.063,"y2":-0.478},{"x":-0.15,"y":-0.45,"x2":-0.02,"y2":-0.505},{"x":-0.25,"y":-0.45,"x2":-0.123,"y2":-0.526},{"x":-0.35,"y":-0.45,"x2":-0.246,"y2":-0.529},
{"x":-0.15,"y":-0.55,"x2":-0.06,"y2":-0.584},{"x":-0.25,"y":-0.55,"x2":-0.158,"y2":-0.598},
{"x":0.55,"y":0.45,"x2":0.53,"y2":0.54},{"x":0.65,"y":0.35,"x2":0.64,"y2":0.49},{"x":0.75,"y":0.35,"x2":0.747,"y2":0.45},{"x":0.85,"y":0.25,"x2":0.855,"y2":0.33},{"x":0.927,"y":0.415,"x2":0.978,"y2":0.278},{"x":0.95,"y":0.05,"x2":0.96,"y2":0.1},{"x":0.95,"y":-0.05,"x2":0.96,"y2":0},{"x":0.85,"y":0.05,"x2":0.86,"y2":0.08},{"x":0.85,"y":-0.45,"x2":0.855,"y2":-0.43},
{"x":-0.75,"y":-0.25,"x2":-0.755,"y2":-0.31},{"x":-0.65,"y":-0.25,"x2":-0.645,"y2":-0.41},{"x":-0.55,"y":-0.35,"x2":-0.53,"y2":-0.47},{"x":-0.75,"y":0.55,"x2":-0.75,"y2":0.535},{"x":-0.85,"y":0.45,"x2":-0.845,"y2":0.43},{"x":-0.85,"y":0.35,"x2":-0.853,"y2":0.33}
],
"a2":[
{"x":-0.45,"y":0.05,"x2":-0.473,"y2":-0.031},{"x":-0.35,"y":0.05,"x2":-0.375,"y2":-0.029},{"x":-0.25,"y":0.05,"x2":-0.265,"y2":0.009},{"x":-0.15,"y":0.05,"x2":-0.158,"y2":0.035},{"x":-0.05,"y":0.05,"x2":-0.052,"y2":0.048},{"x":0.05,"y":0.05,"x2":0.048,"y2":0.052},{"x":0.15,"y":0.05,"x2":0.146,"y2":0.066},{"x":0.25,"y":0.05,"x2":0.247,"y2":0.092},{"x":0.35,"y":0.05,"x2":0.349,"y2":0.132},{"x":0.45,"y":0.05,"x2":0.452,"y2":0.114},
{"x":-0.45,"y":0.15,"x2":-0.497,"y2":0.061},{"x":-0.35,"y":0.15,"x2":-0.4,"y2":0.069},{"x":-0.25,"y":0.15,"x2":-0.284,"y2":0.107},{"x":-0.15,"y":0.15,"x2":-0.171,"y2":0.132},{"x":-0.05,"y":0.15,"x2":-0.064,"y2":0.144},{"x":0.05,"y":0.15,"x2":0.034,"y2":0.153},{"x":0.15,"y":0.15,"x2":0.128,"y2":0.169},{"x":0.25,"y":0.15,"x2":0.222,"y2":0.196},{"x":0.35,"y":0.15,"x2":0.324,"y2":0.219},{"x":0.45,"y":0.15,"x2":0.439,"y2":0.192},
{"x":-0.45,"y":0.25,"x2":-0.517,"y2":0.16},{"x":-0.35,"y":0.25,"x2":-0.429,"y2":0.162},{"x":-0.25,"y":0.25,"x2":-0.309,"y2":0.199},{"x":-0.15,"y":0.25,"x2":-0.195,"y2":0.223},{"x":-0.05,"y":0.25,"x2":-0.089,"y2":0.238},{"x":0.05,"y":0.25,"x2":0.007,"y2":0.252},{"x":0.15,"y":0.25,"x2":0.098,"y2":0.271},{"x":0.25,"y":0.25,"x2":0.188,"y2":0.301},{"x":0.35,"y":0.25,"x2":0.314,"y2":0.297},
{"x":-0.45,"y":0.35,"x2":-0.527,"y2":0.27},{"x":-0.35,"y":0.35,"x2":-0.465,"y2":0.25},{"x":-0.25,"y":0.35,"x2":-0.344,"y2":0.287},{"x":-0.15,"y":0.35,"x2":-0.231,"y2":0.312},{"x":-0.05,"y":0.35,"x2":-0.127,"y2":0.331},{"x":0.05,"y":0.35,"x2":-0.032,"y2":0.349},{"x":0.15,"y":0.35,"x2":0.056,"y2":0.373},{"x":0.25,"y":0.35,"x2":0.185,"y2":0.384},
{"x":-0.45,"y":0.45,"x2":-0.522,"y2":0.387},{"x":-0.35,"y":0.45,"x2":-0.462,"y2":0.369},{"x":-0.25,"y":0.45,"x2":-0.389,"y2":0.372},{"x":-0.15,"y":0.45,"x2":-0.28,"y2":0.398},{"x":-0.05,"y":0.45,"x2":-0.178,"y2":0.421},{"x":0.05,"y":0.45,"x2":-0.069,"y2":0.445},{"x":0.15,"y":0.45,"x2":0.065,"y2":0.463},
{"x":-0.35,"y":0.55,"x2":-0.438,"y2":0.495},{"x":-0.25,"y":0.55,"x2":-0.363,"y2":0.495},{"x":-0.15,"y":0.55,"x2":-0.271,"y2":0.507},{"x":-0.05,"y":0.55,"x2":-0.16,"y2":0.527},{"x":0.05,"y":0.55,"x2":-0.034,"y2":0.545},
{"x":0.45,"y":-0.05,"x2":0.473,"y2":0.031},{"x":0.35,"y":-0.05,"x2":0.375,"y2":0.029},{"x":0.25,"y":-0.05,"x2":0.265,"y2":-0.009},{"x":0.15,"y":-0.05,"x2":0.158,"y2":-0.035},{"x":0.05,"y":-0.05,"x2":0.052,"y2":-0.048},{"x":-0.05,"y":-0.05,"x2":-0.048,"y2":-0.052},{"x":-0.15,"y":-0.05,"x2":-0.146,"y2":-0.066},{"x":-0.25,"y":-0.05,"x2":-0.247,"y2":-0.092},{"x":-0.35,"y":-0.05,"x2":-0.349,"y2":-0.132},{"x":-0.45,"y":-0.05,"x2":-0.452,"y2":-0.114},
{"x":0.45,"y":-0.15,"x2":0.497,"y2":-0.061},{"x":0.35,"y":-0.15,"x2":0.4,"y2":-0.069},{"x":0.25,"y":-0.15,"x2":0.284,"y2":-0.107},{"x":0.15,"y":-0.15,"x2":0.171,"y2":-0.132},{"x":0.05,"y":-0.15,"x2":0.064,"y2":-0.144},{"x":-0.05,"y":-0.15,"x2":-0.034,"y2":-0.153},{"x":-0.15,"y":-0.15,"x2":-0.128,"y2":-0.169},{"x":-0.25,"y":-0.15,"x2":-0.222,"y2":-0.196},{"x":-0.35,"y":-0.15,"x2":-0.324,"y2":-0.219},{"x":-0.45,"y":-0.15,"x2":-0.439,"y2":-0.192},
{"x":0.45,"y":-0.25,"x2":0.517,"y2":-0.16},{"x":0.35,"y":-0.25,"x2":0.429,"y2":-0.162},{"x":0.25,"y":-0.25,"x2":0.309,"y2":-0.199},{"x":0.15,"y":-0.25,"x2":0.195,"y2":-0.223},{"x":0.05,"y":-0.25,"x2":0.089,"y2":-0.238},{"x":-0.05,"y":-0.25,"x2":-0.007,"y2":-0.252},{"x":-0.15,"y":-0.25,"x2":-0.098,"y2":-0.271},{"x":-0.25,"y":-0.25,"x2":-0.188,"y2":-0.301},{"x":-0.35,"y":-0.25,"x2":-0.314,"y2":-0.297},
{"x":0.45,"y":-0.35,"x2":0.527,"y2":-0.27},{"x":0.35,"y":-0.35,"x2":0.465,"y2":-0.25},{"x":0.25,"y":-0.35,"x2":0.344,"y2":-0.287},{"x":0.15,"y":-0.35,"x2":0.231,"y2":-0.312},{"x":0.05,"y":-0.35,"x2":0.127,"y2":-0.331},{"x":-0.05,"y":-0.35,"x2":0.032,"y2":-0.349},{"x":-0.15,"y":-0.35,"x2":-0.056,"y2":-0.373},{"x":-0.25,"y":-0.35,"x2":-0.185,"y2":-0.384},
{"x":0.45,"y":-0.45,"x2":0.522,"y2":-0.387},{"x":0.35,"y":-0.45,"x2":0.462,"y2":-0.369},{"x":0.25,"y":-0.45,"x2":0.389,"y2":-0.372},{"x":0.15,"y":-0.45,"x2":0.28,"y2":-0.398},{"x":0.05,"y":-0.45,"x2":0.178,"y2":-0.421},{"x":-0.05,"y":-0.45,"x2":0.069,"y2":-0.445},{"x":-0.15,"y":-0.45,"x2":-0.065,"y2":-0.463},
{"x":0.35,"y":-0.55,"x2":0.438,"y2":-0.495},{"x":0.25,"y":-0.55,"x2":0.363,"y2":-0.495},{"x":0.15,"y":-0.55,"x2":0.271,"y2":-0.507},{"x":0.05,"y":-0.55,"x2":0.16,"y2":-0.527},{"x":-0.05,"y":-0.55,"x2":0.034,"y2":-0.545},
{"x":0.85,"y":-0.45,"x2":0.893,"y2":-0.395},{"x":0.75,"y":-0.55,"x2":0.775,"y2":-0.533},{"x":0.65,"y":-0.65,"x2":0.66,"y2":-0.642},{"x":-0.25,"y":-0.85,"x2":-0.235,"y2":-0.858},{"x":0.35,"y":0.95,"x2":0.33,"y2":0.96},{"x":0.65,"y":0.75,"x2":0.625,"y2":0.778},{"x":0.75,"y":0.65,"x2":0.73,"y2":0.68},{"x":-0.85,"y":0.45,"x2":-0.855,"y2":0.44}
],
"a3":[
{"x":-0.55,"y":0.05,"x2":-0.547,"y2":-0.037},{"x":-0.45,"y":0.05,"x2":-0.447,"y2":-0.073},{"x":-0.35,"y":0.05,"x2":-0.35,"y2":-0.035},{"x":-0.25,"y":0.05,"x2":-0.252,"y2":0.006},{"x":-0.15,"y":0.05,"x2":-0.153,"y2":0.033},{"x":-0.05,"y":0.05,"x2":-0.052,"y2":0.047},{"x":0.05,"y":0.05,"x2":0.048,"y2":0.053},{"x":0.15,"y":0.05,"x2":0.144,"y2":0.065},{"x":0.25,"y":0.05,"x2":0.239,"y2":0.092},{"x":0.35,"y":0.05,"x2":0.332,"y2":0.131},{"x":0.45,"y":0.05,"x2":0.423,"y2":0.184},{"x":0.55,"y":0.05,"x2":0.531,"y2":0.156},
{"x":-0.45,"y":0.15,"x2":-0.465,"y2":0.059},{"x":-0.35,"y":0.15,"x2":-0.373,"y2":0.054},{"x":-0.25,"y":0.15,"x2":-0.271,"y2":0.097},{"x":-0.15,"y":0.15,"x2":-0.168,"y2":0.127},{"x":-0.05,"y":0.15,"x2":-0.065,"y2":0.146},{"x":0.05,"y":0.15,"x2":0.035,"y2":0.158},{"x":0.15,"y":0.15,"x2":0.131,"y2":0.173},{"x":0.25,"y":0.15,"x2":0.223,"y2":0.199},{"x":0.35,"y":0.15,"x2":0.312,"y2":0.237},{"x":0.45,"y":0.15,"x2":0.4,"y2":0.289},{"x":0.55,"y":0.15,"x2":0.515,"y2":0.259},
{"x":-0.35,"y":0.25,"x2":-0.385,"y2":0.179},{"x":-0.25,"y":0.25,"x2":-0.3,"y2":0.185},{"x":-0.15,"y":0.25,"x2":-0.195,"y2":0.22},{"x":-0.05,"y":0.25,"x2":-0.092,"y2":0.245},{"x":0.05,"y":0.25,"x2":0.009,"y2":0.266},{"x":0.15,"y":0.25,"x2":0.105,"y2":0.287},{"x":0.25,"y":0.25,"x2":0.197,"y2":0.315},{"x":0.35,"y":0.25,"x2":0.285,"y2":0.353},{"x":0.45,"y":0.25,"x2":0.385,"y2":0.373},
{"x":-0.25,"y":0.35,"x2":-0.297,"y2":0.311},{"x":-0.15,"y":0.35,"x2":-0.217,"y2":0.322},{"x":-0.05,"y":0.35,"x2":-0.131,"y2":0.347},{"x":0.05,"y":0.35,"x2":-0.03,"y2":0.375},{"x":0.15,"y":0.35,"x2":0.067,"y2":0.403},{"x":0.25,"y":0.35,"x2":0.159,"y2":0.436},{"x":0.35,"y":0.35,"x2":0.27,"y2":0.448},{"x":0.45,"y":0.35,"x2":0.39,"y2":0.44},
{"x":-0.05,"y":0.45,"x2":-0.107,"y2":0.45},{"x":0.05,"y":0.45,"x2":-0.019,"y2":0.469},{"x":0.15,"y":0.45,"x2":0.077,"y2":0.489},{"x":0.25,"y":0.45,"x2":0.181,"y2":0.503},
{"x":0.55,"y":-0.05,"x2":0.547,"y2":0.037},{"x":0.45,"y":-0.05,"x2":0.447,"y2":0.073},{"x":0.35,"y":-0.05,"x2":0.35,"y2":0.035},{"x":0.25,"y":-0.05,"x2":0.252,"y2":-0.006},{"x":0.15,"y":-0.05,"x2":0.153,"y2":-0.033},{"x":0.05,"y":-0.05,"x2":0.052,"y2":-0.047},{"x":-0.05,"y":-0.05,"x2":-0.048,"y2":-0.053},{"x":-0.15,"y":-0.05,"x2":-0.144,"y2":-0.065},{"x":-0.25,"y":-0.05,"x2":-0.239,"y2":-0.092},{"x":-0.35,"y":-0.05,"x2":-0.332,"y2":-0.131},{"x":-0.45,"y":-0.05,"x2":-0.423,"y2":-0.184},{"x":-0.55,"y":-0.05,"x2":-0.531,"y2":-0.156},
{"x":0.45,"y":-0.15,"x2":0.465,"y2":-0.059},{"x":0.35,"y":-0.15,"x2":0.373,"y2":-0.054},{"x":0.25,"y":-0.15,"x2":0.271,"y2":-0.097},{"x":0.15,"y":-0.15,"x2":0.168,"y2":-0.127},{"x":0.05,"y":-0.15,"x2":0.065,"y2":-0.146},{"x":-0.05,"y":-0.15,"x2":-0.035,"y2":-0.158},{"x":-0.15,"y":-0.15,"x2":-0.131,"y2":-0.173},{"x":-0.25,"y":-0.15,"x2":-0.223,"y2":-0.199},{"x":-0.35,"y":-0.15,"x2":-0.312,"y2":-0.237},{"x":-0.45,"y":-0.15,"x2":-0.4,"y2":-0.289},{"x":-0.55,"y":-0.15,"x2":-0.515,"y2":-0.259},
{"x":0.35,"y":-0.25,"x2":0.385,"y2":-0.179},{"x":0.25,"y":-0.25,"x2":0.3,"y2":-0.185},{"x":0.15,"y":-0.25,"x2":0.195,"y2":-0.22},{"x":0.05,"y":-0.25,"x2":0.092,"y2":-0.245},{"x":-0.05,"y":-0.25,"x2":-0.009,"y2":-0.266},{"x":-0.15,"y":-0.25,"x2":-0.105,"y2":-0.287},{"x":-0.25,"y":-0.25,"x2":-0.197,"y2":-0.315},{"x":-0.35,"y":-0.25,"x2":-0.285,"y2":-0.353},{"x":-0.45,"y":-0.25,"x2":-0.385,"y2":-0.373},
{"x":0.25,"y":-0.35,"x2":0.297,"y2":-0.311},{"x":0.15,"y":-0.35,"x2":0.217,"y2":-0.322},{"x":0.05,"y":-0.35,"x2":0.131,"y2":-0.347},{"x":-0.05,"y":-0.35,"x2":0.03,"y2":-0.375},{"x":-0.15,"y":-0.35,"x2":-0.067,"y2":-0.403},{"x":-0.25,"y":-0.35,"x2":-0.159,"y2":-0.436},{"x":-0.35,"y":-0.35,"x2":-0.27,"y2":-0.448},{"x":-0.45,"y":-0.35,"x2":-0.39,"y2":-0.44},
{"x":0.05,"y":-0.45,"x2":0.107,"y2":-0.45},{"x":-0.05,"y":-0.45,"x2":0.019,"y2":-0.469},{"x":-0.15,"y":-0.45,"x2":-0.077,"y2":-0.489},{"x":-0.25,"y":-0.45,"x2":-0.181,"y2":-0.503}
]
},
"concat":[
{"width":443,"height":443,
"encoding":{"x":{"field":"x","type":"quantitative","scale":{"domain":[-1.05,1.05],"nice":false,"zero":false},"axis":null},
"y":{"field":"y","type":"quantitative","scale":{"domain":[-1.05,1.05],"nice":false,"zero":false},"axis":{"values":[-1,0,1],"title":null,"ticks":false,"domain":false,"grid":false,"labelFont":"Inter","labelFontWeight":300,"labelFontSize":31,"labelColor":"#000","labelPadding":15,"labelFlush":false,"labelExpr":"datum.value < 0 ? '\u2212\u2009\u20091' : (datum.value > 0 ? '1' : '0')"}}},
"layer":[
{"data":{"name":"g"},"mark":{"type":"point","shape":"square","filled":true,"size":4,"color":"#000","opacity":1}},
{"data":{"name":"tk"},"mark":{"type":"rule","color":"#333","strokeWidth":1},"encoding":{"x2":{"field":"x2"},"y2":{"field":"y2"}}},
{"data":{"name":"s0"},"mark":{"type":"line","interpolate":"cardinal-closed","color":"#000","strokeWidth":1.5,"clip":true},"encoding":{"detail":{"field":"id","type":"nominal"},"order":{"value":null}}},
{"data":{"name":"j0"},"mark":{"type":"line","interpolate":"linear-closed","color":"#000","strokeWidth":1.3,"clip":true},"encoding":{"detail":{"field":"id","type":"nominal"},"order":{"value":null}}},
{"data":{"name":"a0"},"mark":{"type":"rule","color":"#000","strokeWidth":1.5},"encoding":{"x2":{"field":"x2"},"y2":{"field":"y2"}}},
{"data":{"name":"a0"},"transform":[{"filter":"abs(datum.x2-datum.x)+abs(datum.y2-datum.y)>0.02"},{"calculate":"atan2(datum.x2-datum.x,datum.y2-datum.y)*180/PI","as":"ang"}],"mark":{"type":"point","shape":"triangle-up","filled":true,"size":28,"color":"#000","opacity":1},"encoding":{"x":{"field":"x2","type":"quantitative","axis":null},"y":{"field":"y2","type":"quantitative","axis":{"values":[-1,0,1],"title":null,"ticks":false,"domain":false,"grid":false,"labelFont":"Inter","labelFontWeight":300,"labelFontSize":31,"labelColor":"#000","labelPadding":15,"labelFlush":false,"labelExpr":"datum.value < 0 ? '\u2212\u2009\u20091' : (datum.value > 0 ? '1' : '0')"}},"angle":{"field":"ang","type":"quantitative","scale":null}}},
{"data":{"values":[{"x":0,"y":0}]},"mark":{"type":"circle","size":40,"color":"#000","opacity":1}},
{"data":{"values":[{"x":-0.85,"y":0.79,"t":"t\u2009=\u20090"}]},"mark":{"type":"text","align":"left","baseline":"middle","font":"Inter","fontWeight":300,"fontSize":32,"color":"#000"},"encoding":{"text":{"field":"t"}}}
]},
{"width":443,"height":443,
"encoding":{"x":{"field":"x","type":"quantitative","scale":{"domain":[-1.05,1.05],"nice":false,"zero":false},"axis":null},
"y":{"field":"y","type":"quantitative","scale":{"domain":[-1.05,1.05],"nice":false,"zero":false},"axis":{"values":[-1,0,1],"title":null,"ticks":false,"domain":false,"grid":false,"labelFont":"Inter","labelFontWeight":300,"labelFontSize":31,"labelColor":"#000","labelPadding":15,"labelFlush":false,"labelExpr":"datum.value < 0 ? '\u2212\u2009\u20091' : (datum.value > 0 ? '1' : '0')"}}},
"layer":[
{"data":{"name":"g"},"mark":{"type":"point","shape":"square","filled":true,"size":4,"color":"#000","opacity":1}},
{"data":{"name":"tk"},"mark":{"type":"rule","color":"#333","strokeWidth":1},"encoding":{"x2":{"field":"x2"},"y2":{"field":"y2"}}},
{"data":{"name":"s1"},"mark":{"type":"line","interpolate":"cardinal-closed","color":"#000","strokeWidth":1.5,"clip":true},"encoding":{"detail":{"field":"id","type":"nominal"},"order":{"value":null}}},
{"data":{"name":"o1"},"mark":{"type":"line","interpolate":"cardinal","color":"#000","strokeWidth":1.4,"clip":true},"encoding":{"detail":{"field":"id","type":"nominal"},"order":{"value":null}}},
{"data":{"name":"a1"},"mark":{"type":"rule","color":"#000","strokeWidth":1.5},"encoding":{"x2":{"field":"x2"},"y2":{"field":"y2"}}},
{"data":{"name":"a1"},"transform":[{"filter":"abs(datum.x2-datum.x)+abs(datum.y2-datum.y)>0.02"},{"calculate":"atan2(datum.x2-datum.x,datum.y2-datum.y)*180/PI","as":"ang"}],"mark":{"type":"point","shape":"triangle-up","filled":true,"size":28,"color":"#000","opacity":1},"encoding":{"x":{"field":"x2","type":"quantitative","axis":null},"y":{"field":"y2","type":"quantitative","axis":{"values":[-1,0,1],"title":null,"ticks":false,"domain":false,"grid":false,"labelFont":"Inter","labelFontWeight":300,"labelFontSize":31,"labelColor":"#000","labelPadding":15,"labelFlush":false,"labelExpr":"datum.value < 0 ? '\u2212\u2009\u20091' : (datum.value > 0 ? '1' : '0')"}},"angle":{"field":"ang","type":"quantitative","scale":null}}},
{"data":{"values":[{"x":0,"y":0}]},"mark":{"type":"circle","size":40,"color":"#000","opacity":1}},
{"data":{"values":[{"x":-0.85,"y":0.79,"t":"t\u2009=\u20095"}]},"mark":{"type":"text","align":"left","baseline":"middle","font":"Inter","fontWeight":300,"fontSize":32,"color":"#000"},"encoding":{"text":{"field":"t"}}}
]},
{"width":443,"height":443,
"encoding":{"x":{"field":"x","type":"quantitative","scale":{"domain":[-1.05,1.05],"nice":false,"zero":false},"axis":null},
"y":{"field":"y","type":"quantitative","scale":{"domain":[-1.05,1.05],"nice":false,"zero":false},"axis":{"values":[-1,0,1],"title":null,"ticks":false,"domain":false,"grid":false,"labelFont":"Inter","labelFontWeight":300,"labelFontSize":31,"labelColor":"#000","labelPadding":15,"labelFlush":false,"labelExpr":"datum.value < 0 ? '\u2212\u2009\u20091' : (datum.value > 0 ? '1' : '0')"}}},
"layer":[
{"data":{"name":"g"},"mark":{"type":"point","shape":"square","filled":true,"size":4,"color":"#000","opacity":1}},
{"data":{"name":"tk"},"mark":{"type":"rule","color":"#333","strokeWidth":1},"encoding":{"x2":{"field":"x2"},"y2":{"field":"y2"}}},
{"data":{"name":"s2"},"mark":{"type":"line","interpolate":"cardinal-closed","color":"#000","strokeWidth":1.5,"clip":true},"encoding":{"detail":{"field":"id","type":"nominal"},"order":{"value":null}}},
{"data":{"name":"a2"},"mark":{"type":"rule","color":"#000","strokeWidth":1.5},"encoding":{"x2":{"field":"x2"},"y2":{"field":"y2"}}},
{"data":{"name":"a2"},"transform":[{"filter":"abs(datum.x2-datum.x)+abs(datum.y2-datum.y)>0.02"},{"calculate":"atan2(datum.x2-datum.x,datum.y2-datum.y)*180/PI","as":"ang"}],"mark":{"type":"point","shape":"triangle-up","filled":true,"size":28,"color":"#000","opacity":1},"encoding":{"x":{"field":"x2","type":"quantitative","axis":null},"y":{"field":"y2","type":"quantitative","axis":{"values":[-1,0,1],"title":null,"ticks":false,"domain":false,"grid":false,"labelFont":"Inter","labelFontWeight":300,"labelFontSize":31,"labelColor":"#000","labelPadding":15,"labelFlush":false,"labelExpr":"datum.value < 0 ? '\u2212\u2009\u20091' : (datum.value > 0 ? '1' : '0')"}},"angle":{"field":"ang","type":"quantitative","scale":null}}},
{"data":{"values":[{"x":0,"y":0}]},"mark":{"type":"circle","size":40,"color":"#000","opacity":1}},
{"data":{"values":[{"x":-0.85,"y":0.79,"t":"t\u2009=\u20091\u20090"}]},"mark":{"type":"text","align":"left","baseline":"middle","font":"Inter","fontWeight":300,"fontSize":32,"color":"#000"},"encoding":{"text":{"field":"t"}}}
]},
{"width":443,"height":443,
"encoding":{"x":{"field":"x","type":"quantitative","scale":{"domain":[-1.05,1.05],"nice":false,"zero":false},"axis":null},
"y":{"field":"y","type":"quantitative","scale":{"domain":[-1.05,1.05],"nice":false,"zero":false},"axis":{"values":[-1,0,1],"title":null,"ticks":false,"domain":false,"grid":false,"labelFont":"Inter","labelFontWeight":300,"labelFontSize":31,"labelColor":"#000","labelPadding":15,"labelFlush":false,"labelExpr":"datum.value < 0 ? '\u2212\u2009\u20091' : (datum.value > 0 ? '1' : '0')"}}},
"layer":[
{"data":{"name":"g"},"mark":{"type":"point","shape":"square","filled":true,"size":4,"color":"#000","opacity":1}},
{"data":{"name":"tk"},"mark":{"type":"rule","color":"#333","strokeWidth":1},"encoding":{"x2":{"field":"x2"},"y2":{"field":"y2"}}},
{"data":{"name":"s3"},"mark":{"type":"line","interpolate":"cardinal-closed","color":"#000","strokeWidth":1.5,"clip":true},"encoding":{"detail":{"field":"id","type":"nominal"},"order":{"value":null}}},
{"data":{"name":"o3"},"mark":{"type":"line","interpolate":"cardinal","color":"#000","strokeWidth":1.4,"clip":true},"encoding":{"detail":{"field":"id","type":"nominal"},"order":{"value":null}}},
{"data":{"name":"a3"},"mark":{"type":"rule","color":"#000","strokeWidth":1.5},"encoding":{"x2":{"field":"x2"},"y2":{"field":"y2"}}},
{"data":{"name":"a3"},"transform":[{"filter":"abs(datum.x2-datum.x)+abs(datum.y2-datum.y)>0.02"},{"calculate":"atan2(datum.x2-datum.x,datum.y2-datum.y)*180/PI","as":"ang"}],"mark":{"type":"point","shape":"triangle-up","filled":true,"size":28,"color":"#000","opacity":1},"encoding":{"x":{"field":"x2","type":"quantitative","axis":null},"y":{"field":"y2","type":"quantitative","axis":{"values":[-1,0,1],"title":null,"ticks":false,"domain":false,"grid":false,"labelFont":"Inter","labelFontWeight":300,"labelFontSize":31,"labelColor":"#000","labelPadding":15,"labelFlush":false,"labelExpr":"datum.value < 0 ? '\u2212\u2009\u20091' : (datum.value > 0 ? '1' : '0')"}},"angle":{"field":"ang","type":"quantitative","scale":null}}},
{"data":{"values":[{"x":0,"y":0}]},"mark":{"type":"circle","size":40,"color":"#000","opacity":1}},
{"data":{"values":[{"x":-0.85,"y":0.79,"t":"t\u2009=\u20091\u20095"}]},"mark":{"type":"text","align":"left","baseline":"middle","font":"Inter","fontWeight":300,"fontSize":32,"color":"#000"},"encoding":{"text":{"field":"t"}}}
]}
]
}
